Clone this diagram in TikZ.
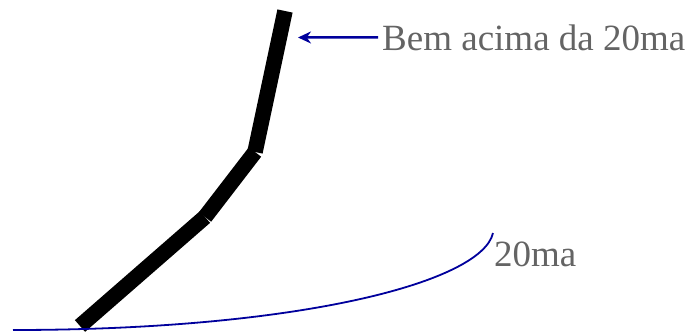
\documentclass[tikz,border=0pt]{standalone}
\usepackage{fontspec}
\setmainfont{Liberation Serif}
\usetikzlibrary{arrows.meta, positioning}
\definecolor{navy}{RGB}{0,0,156}
\definecolor{txtgray}{RGB}{100,100,100}

\begin{document}
\begin{tikzpicture}[
    x=1pt, y=-1pt,
    pole/.style={line width=15.5pt, line cap=butt, black},
    arrow/.style={-{Stealth[length=13pt, width=12pt]}, line width=2.5pt, navy},
    curve/.style={line width=1.8pt, navy},
    lbl/.style={anchor=base west, inner sep=0pt, text=txtgray, font=\rmfamily\fontsize{37}{40}\selectfont}
]
    \useasboundingbox (0,0) rectangle (690,332);

    % Bent stroke
    \coordinate (p0) at (80,326);
    \coordinate (p1) at (205,217);
    \coordinate (p2) at (255,152);
    \coordinate (p3) at (285,11);
    \draw[pole] (p0) -- (p1);
    \draw[pole] (p1) -- (p2);
    \draw[pole] (p2) -- (p3);

    % Curve
    \coordinate (c0) at (13,330);
    \coordinate (c1) at (493,233);
    \draw[curve] (c0) .. controls (300,330) and (482,282) .. (c1);

    % Labels
    \node[lbl] (top) at (382,50) {Bem acima da 20ma};
    \node[lbl] (ma) at (494,266) {20ma};

    % Pointer
    \coordinate (tip) at (298,37.5);
    \draw[arrow] ([xshift=-4pt]top.west) -- (tip);
\end{tikzpicture}
\end{document}
